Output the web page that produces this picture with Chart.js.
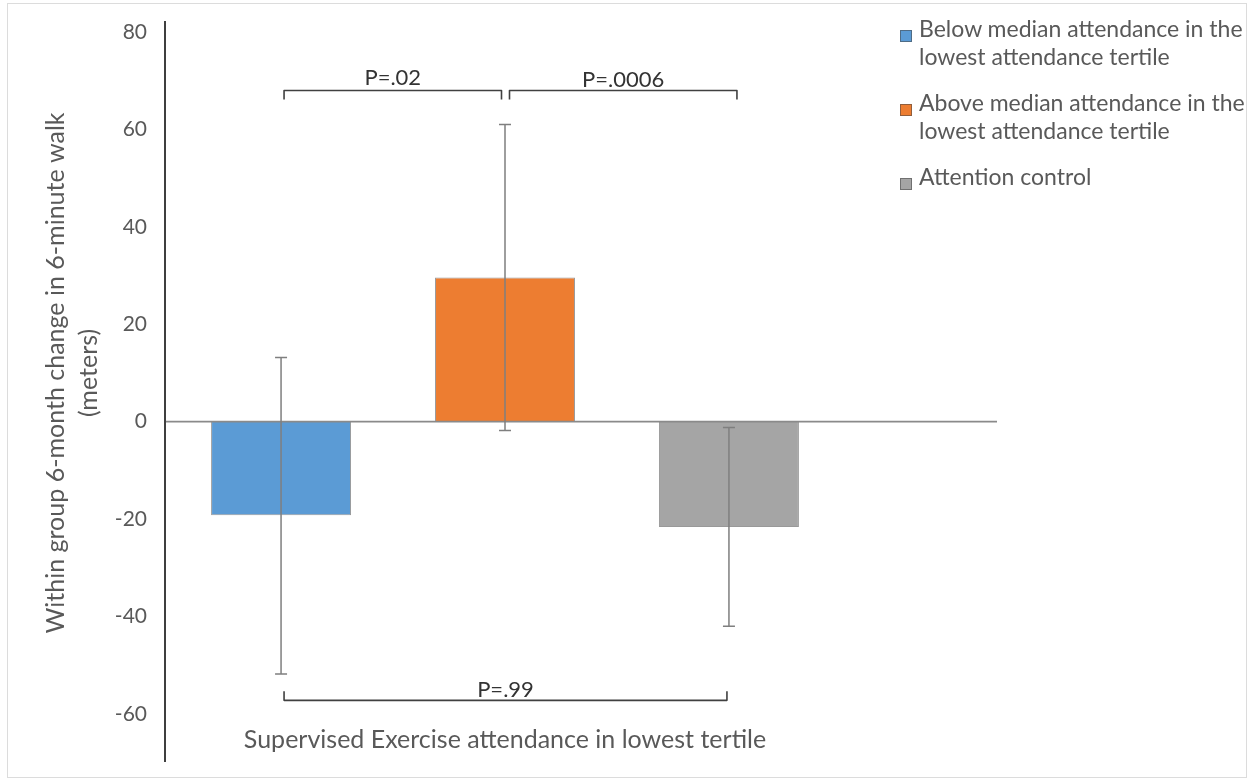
<!DOCTYPE html>
<html>
<head>
<meta charset="utf-8">
<title>6-minute walk change by attendance</title>
<script src="https://cdn.jsdelivr.net/npm/chart.js@4.4.1/dist/chart.umd.min.js"></script>
<style>
  html, body { margin: 0; padding: 0; background: #ffffff; }
  #wrap { position: relative; width: 1251px; height: 783px; overflow: hidden; }
  #frame { position: absolute; left: 7px; top: 3px; width: 1240px; height: 775px; border: 1px solid #dcdcdc; box-sizing: border-box; }
  #chart { position: absolute; left: 0; top: 0; }
  #legend { position: absolute; left: 900px; top: 14px; width: 348px;
            font-family: Lato, "Open Sans", sans-serif; font-size: 23px; line-height: 28.4px; color: #595959; }
  #legend .item { position: relative; padding-left: 19px; margin-bottom: 17px; }
  #legend .swatch { position: absolute; left: 0; top: 16px; width: 12px; height: 12px;
                    box-sizing: border-box; border: 1px solid rgba(70,70,70,0.55); }
</style>
</head>
<body>
<div id="wrap">
  <div id="frame"></div>
  <canvas id="chart" width="1251" height="783"></canvas>
  <div id="legend"></div>
</div>
<script>
// Category and groups
const categories = ['Supervised Exercise attendance in lowest tertile'];
const seriesNames = [
  'Below median attendance in the lowest attendance tertile',
  'Above median attendance in the lowest attendance tertile',
  'Attention control'
];
// Mean within-group change (meters) and the ends of its error bar
const meanChange = [-19.2, 29.6, -21.6];
const errLow  = [-51.8, -1.8, -42.0];
const errHigh = [13.2, 61.0, -1.2];

// Y axis
const yTickValues = [-60, -40, -20, 0, 20, 40, 60, 80];
const yTitle = ['Within group 6-month change in 6-minute walk', '(meters)'];

// Pairwise comparisons: which groups, where the bracket sits, and the p-value text
const pLabels = ['P=.02', 'P=.0006', 'P=.99'];
const pFrom   = [0, 1, 0];
const pTo     = [1, 2, 2];
const pLevel  = [68, 68, -57.2];

const barColors = ['#5B9BD5', '#ED7D31', '#A5A5A5'];
const textGray = '#595959';
const fontFamily = 'Lato, "Open Sans", sans-serif';

// Axis lines, error bars and comparison brackets
const annotate = {
  id: 'annotate',
  afterDatasetsDraw(chart, args, opts) {
    const { ctx, chartArea: a } = chart;
    const y = chart.scales.y;
    ctx.save();

    // horizontal line at zero
    const y0 = y.getPixelForValue(0);
    ctx.strokeStyle = opts.zeroColor;
    ctx.lineWidth = 1.75;
    ctx.beginPath();
    ctx.moveTo(a.left, y0);
    ctx.lineTo(a.right + opts.zeroOverhang, y0);
    ctx.stroke();

    // vertical axis line
    ctx.strokeStyle = opts.axisColor;
    ctx.lineWidth = 2;
    ctx.beginPath();
    ctx.moveTo(a.left, a.top - opts.axisOverhang[0]);
    ctx.lineTo(a.left, a.bottom + opts.axisOverhang[1]);
    ctx.stroke();

    // error bars
    ctx.strokeStyle = opts.errColor;
    ctx.lineWidth = 1.5;
    chart.data.datasets.forEach((ds, i) => {
      const bar = chart.getDatasetMeta(i).data[0];
      const lo = y.getPixelForValue(ds.errLow[0]);
      const hi = y.getPixelForValue(ds.errHigh[0]);
      const c = opts.capHalf;
      ctx.beginPath();
      ctx.moveTo(bar.x, lo); ctx.lineTo(bar.x, hi);
      ctx.moveTo(bar.x - c, lo); ctx.lineTo(bar.x + c, lo);
      ctx.moveTo(bar.x - c, hi); ctx.lineTo(bar.x + c, hi);
      ctx.stroke();
    });

    // comparison brackets with p-values
    ctx.strokeStyle = opts.bracketColor;
    ctx.lineWidth = 1.6;
    ctx.lineJoin = 'round';
    ctx.fillStyle = opts.pColor;
    ctx.font = opts.pFont;
    ctx.textAlign = 'center';
    ctx.textBaseline = 'alphabetic';
    pLabels.forEach((label, k) => {
      const xa = chart.getDatasetMeta(pFrom[k]).data[0].x + opts.inset[k][0];
      const xb = chart.getDatasetMeta(pTo[k]).data[0].x + opts.inset[k][1];
      const yl = y.getPixelForValue(pLevel[k]);
      const dir = pLevel[k] > 0 ? 1 : -1;
      ctx.beginPath();
      ctx.moveTo(xa, yl + dir * opts.tick);
      ctx.lineTo(xa, yl);
      ctx.lineTo(xb, yl);
      ctx.lineTo(xb, yl + dir * opts.tick);
      ctx.stroke();
      ctx.fillText(label, (xa + xb) / 2, yl - opts.textGap[k]);
    });
    ctx.restore();
  }
};

new Chart(document.getElementById('chart'), {
  type: 'bar',
  data: {
    labels: categories,
    datasets: seriesNames.map((name, i) => ({
      label: name,
      data: [meanChange[i]],
      errLow: [errLow[i]],
      errHigh: [errHigh[i]],
      backgroundColor: barColors[i],
      borderColor: 'rgba(70,70,70,0.55)',
      borderWidth: 1
    }))
  },
  options: {
    responsive: false,
    animation: false,
    devicePixelRatio: 1,
    layout: { padding: { left: 0, top: 32, right: 406, bottom: 0 } },
    datasets: { bar: { categoryPercentage: 0.988, barPercentage: 0.625 } },
    plugins: {
      legend: { display: false },
      tooltip: { enabled: false },
      annotate: {
        zeroColor: '#8a8a8a',
        zeroOverhang: 152,
        axisColor: '#3f3f3f',
        axisOverhang: [11, 48],
        errColor: '#7f7f7f',
        capHalf: 6,
        bracketColor: '#404040',
        pColor: '#333333',
        pFont: '22px ' + fontFamily,
        tick: 9,
        inset: [[3, -3.5], [4.5, 8], [3, -2]],
        textGap: [5, 3, 3]
      }
    },
    scales: {
      x: {
        grid: { display: false, drawTicks: false },
        border: { display: false },
        ticks: { color: textGray, font: { family: fontFamily, size: 25 }, padding: 11 },
        afterFit(scale) { scale.height = 69; }
      },
      y: {
        min: -60,
        max: 80,
        afterBuildTicks(scale) { scale.ticks = yTickValues.map(v => ({ value: v })); },
        grid: { display: false, drawTicks: false },
        border: { display: false },
        ticks: { color: textGray, font: { family: fontFamily, size: 21 }, padding: 18 },
        title: {
          display: true,
          text: yTitle,
          color: textGray,
          font: { family: fontFamily, size: 25, lineHeight: 1.3 },
          padding: { top: 40, bottom: 0 }
        },
        afterFit(scale) { scale.width = 165; }
      }
    }
  },
  plugins: [annotate]
});

// HTML legend built from the series list
const legendEl = document.getElementById('legend');
seriesNames.forEach((name, i) => {
  const item = document.createElement('div');
  item.className = 'item';
  const sw = document.createElement('span');
  sw.className = 'swatch';
  sw.style.background = barColors[i];
  item.appendChild(sw);
  item.appendChild(document.createTextNode(name));
  legendEl.appendChild(item);
});
</script>
</body>
</html>
